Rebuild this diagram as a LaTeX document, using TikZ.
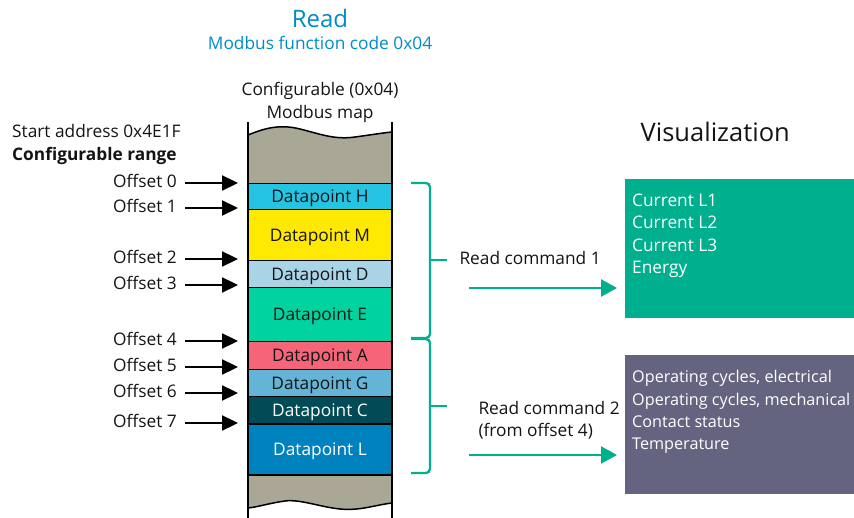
\documentclass[tikz,border=0pt]{standalone}
\usepackage{fontspec}
\setmainfont{Open Sans}
\usetikzlibrary{arrows.meta}
\definecolor{cGray}{RGB}{169,168,150}
\definecolor{cH}{RGB}{36,196,226}
\definecolor{cM}{RGB}{255,233,0}
\definecolor{cD}{RGB}{168,212,230}
\definecolor{cE}{RGB}{0,210,160}
\definecolor{cA}{RGB}{245,100,120}
\definecolor{cG}{RGB}{100,180,215}
\definecolor{cC}{RGB}{0,75,85}
\definecolor{cL}{RGB}{0,130,190}
\definecolor{cGreen}{RGB}{0,175,142}
\definecolor{cPurple}{RGB}{100,100,128}
\definecolor{cBlue}{RGB}{0,140,200}
\definecolor{cDark}{RGB}{20,20,20}
\begin{document}
\begin{tikzpicture}[x=1pt,y=-1pt,
  txt/.style={inner sep=0pt, text=cDark, font=\fontsize{17.3}{22.5}\selectfont},
  big/.style={inner sep=0pt, font=\fontsize{25}{30}\selectfont},
  band/.style={draw=black, line width=1.5pt, minimum width=144pt, inner sep=0pt,
     text height=13pt, text depth=0.5pt,
     anchor=north, text=cDark, font=\fontsize{17.3}{22.5}\selectfont},
  wall/.style={line width=2pt, black},
  oarr/.style={line width=2.3pt, black, -{Triangle[length=16pt,width=15pt]}},
  garr/.style={line width=2.3pt, cGreen, -{Triangle[length=16pt,width=17pt]}},
  brace/.style={line width=2.3pt, cGreen, rounded corners=4pt},
  visbox/.style={anchor=north west, inner sep=0pt, minimum width=229pt}
]
\useasboundingbox (0,0) rectangle (854,518);

% title
\node[big, text=cBlue, anchor=base, font=\fontsize{24}{28}\selectfont] (title) at (320,27.5) {Read};
\node[txt, text=cBlue, anchor=base] (subtitle) at (320,49.3) {Modbus function code 0x04};

% column header
\node[txt, anchor=base] (colh1) at (320,96) {Configurable (0x04)};
\node[txt, anchor=base] (colh2) at (320,118.3) {Modbus map};

% left header
\node[txt, anchor=base west] (start) at (12,138) {Start address 0x4E1F};
\node[txt, anchor=base west, font=\fontsize{17.3}{22.5}\selectfont\bfseries] (range) at (12,160.5) {Configurable range};

% gray top and bottom
\fill[cGray] (248,135) .. controls (265,128) and (280,124) .. (300,129)
   .. controls (320,134) and (335,140) .. (355,137) .. controls (370,135) and (382,133) .. (392,132)
   -- (392,183) -- (248,183) -- cycle;
\draw[line width=1.5pt] (248,135) .. controls (265,128) and (280,124) .. (300,129)
   .. controls (320,134) and (335,140) .. (355,137) .. controls (370,135) and (382,133) .. (392,132);
\fill[cGray] (248,474) -- (392,474) -- (392,503)
   .. controls (375,505) and (360,511) .. (340,509) .. controls (320,507) and (300,499) .. (285,501)
   .. controls (270,503) and (258,507) .. (248,508) -- cycle;
\draw[line width=1.5pt] (392,503)
   .. controls (375,505) and (360,511) .. (340,509) .. controls (320,507) and (300,499) .. (285,501)
   .. controls (270,503) and (258,507) .. (248,508);

% bands
\node[band, fill=cH, minimum height=26pt] (H) at (320,183) {Datapoint H};
\node[band, fill=cM, minimum height=51pt] (M) at (320,209) {Datapoint M};
\node[band, fill=cD, minimum height=27pt] (D) at (320,260) {Datapoint D};
\node[band, fill=cE, minimum height=54pt] (E) at (320,287) {Datapoint E};
\node[band, fill=cA, minimum height=28pt] (A) at (320,341) {Datapoint A};
\node[band, fill=cG, minimum height=27pt] (G) at (320,369) {Datapoint G};
\node[band, fill=cC, minimum height=27pt, text=white] (C) at (320,396) {Datapoint C};
\node[band, fill=cL, minimum height=51pt, text=white] (L) at (320,423) {Datapoint L};

% walls
\draw[wall] (248,122) -- (248,518);
\draw[wall] (392,122) -- (392,518);

% offsets
\foreach \n/\y in {0/183,1/208,2/259,3/285,4/341,5/367,6/393,7/423}{
  \coordinate (t\n) at (238,\y);
  \node[txt, anchor=base east] (o\n) at (177,\y+4.5) {Offset \n};
  \draw[oarr] ([xshift=8pt]o\n.east |- t\n) -- (t\n);
}

% braces
\draw[brace] (411,183) -- (430,183) -- (430,338) -- (411,338);
\draw[brace] (430,260) -- (447,260);
\draw[brace] (411,339) -- (430,339) -- (430,473) -- (411,473);
\draw[brace] (430,406) -- (447,406);

% visualization
\node[big, anchor=base west, text=cDark, font=\fontsize{25.5}{30}\selectfont] (vish) at (640.5,141.7) {Visualization};
\node[visbox, fill=cGreen, minimum height=139pt] (vis1) at (625,179) {};
\node[visbox, fill=cPurple, minimum height=139pt] (vis2) at (625,355) {};
\node[txt, text=white, anchor=north west, align=left] (vis1t) at (632,193.4) {Current L1\\Current L2\\Current L3\\Energy};
\node[txt, text=white, anchor=north west, align=left, font=\fontsize{16.2}{22.4}\selectfont] (vis2t) at (632,370.2) {Operating cycles, electrical\\Operating cycles, mechanical\\Contact status\\Temperature};

% read commands
\node[txt, anchor=base west] (rc1) at (459.3,265) {Read command 1};
\node[txt, anchor=base west] (rc2) at (478.3,414.3) {Read command 2};
\node[txt, anchor=base west] (rc2b) at (478.3,436.7) {(from offset 4)};
\coordinate (g1) at (469,288);
\coordinate (g2) at (469,455);
\draw[garr] (g1) -- ([xshift=-8pt]vis1.west |- g1);
\draw[garr] (g2) -- ([xshift=-8pt]vis2.west |- g2);
\end{tikzpicture}
\end{document}
